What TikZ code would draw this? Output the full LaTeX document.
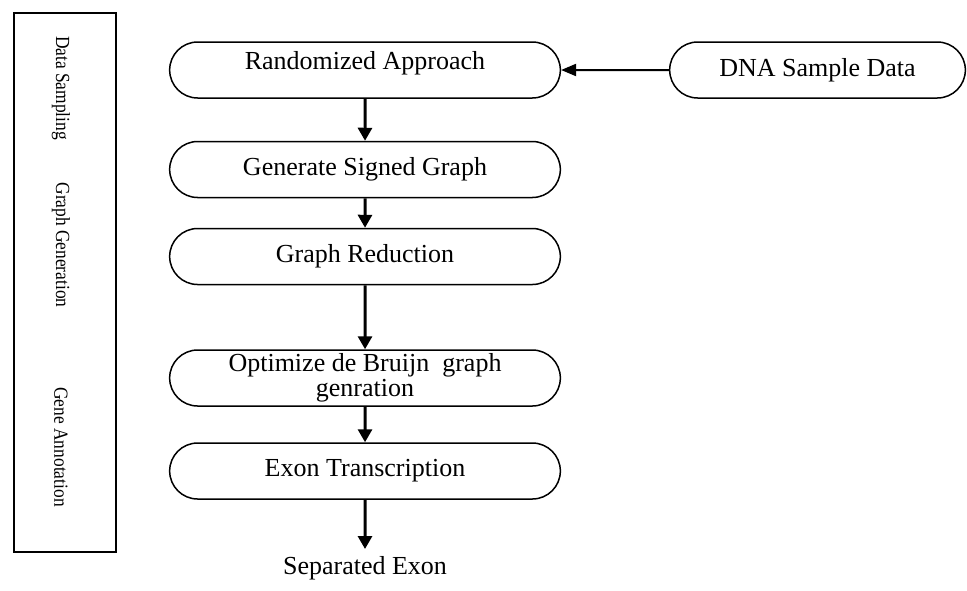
\documentclass[tikz,border=0pt]{standalone}
\usepackage{fontspec}
\usepackage{graphicx}
\setmainfont{Liberation Serif}
\usetikzlibrary{arrows.meta,shapes.misc}
\newcommand{\narrow}[1]{\scalebox{.87}[1]{#1}}
\tikzset{
  phase/.style={
    font=\fontsize{10}{11}\selectfont,
    rotate=-90,
    inner sep=0pt
  },
  step box/.style={
    draw=black,
    line width=.75pt,
    rounded rectangle,
    minimum width=202pt,
    minimum height=28pt,
    align=center,
    font=\fontsize{13}{11}\selectfont
  },
  source box/.style={
    step box,
    minimum width=154.5pt
  },
  flow/.style={
    -{Triangle[length=6.5pt,width=7pt]},
    line width=1.5pt,
    draw=black
  },
  feed/.style={
    -{Triangle[length=7.5pt,width=6pt]},
    line width=1pt,
    draw=black
  }
}

\begin{document}
\begin{tikzpicture}[x=.5pt,y=-.5pt]
  \useasboundingbox (0,0) rectangle (967,590);
  % phase column
  \node[draw,line width=.75pt,minimum width=51pt,minimum height=269.5pt,inner sep=0pt] (phases) at (65,282.5) {};
  \node[phase] (sampling) at (61,88)  {\narrow{Data Sampling}};
  \node[phase] (generation) at (61,245) {\narrow{Graph Generation}};
  \node[phase] (annotation) at (61,447) {\narrow{Gene Annotation}};

  % pipeline
  \node[step box,text depth=10pt] (random) at (365,70) {Randomized Approach};
  \node[source box] (dna)     at (817.5,70)  {DNA Sample Data};
  \node[step box] (signed)    at (365,169.5) {Generate Signed Graph};
  \node[step box] (reduce)    at (365,256.5) {Graph Reduction};
  \node[step box,inner ysep=1.5pt] (debruijn)  at (365,378)   {Optimize de Bruijn~~graph\\genration};
  \node[step box] (exon)      at (365,471)   {Exon Transcription};
  \node[anchor=north,font=\fontsize{13}{14.5}\selectfont] (separated) at (365,549) {Separated Exon};

  \draw[feed] (dna) -- (random);
  \draw[flow] (random) -- (signed);
  \draw[flow] (signed) -- (reduce);
  \draw[flow] (reduce) -- (debruijn);
  \draw[flow] (debruijn) -- (exon);
  \draw[flow] (exon) -- (separated);
\end{tikzpicture}
\end{document}
